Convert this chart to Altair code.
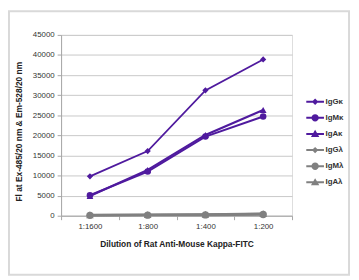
import altair as alt
import pandas as pd

dilutions = ["1:1600", "1:800", "1:400", "1:200"]
series = ["IgGκ", "IgMκ", "IgAκ", "IgGλ", "IgMλ", "IgAλ"]
igg_k = [9800, 16100, 31200, 38900]
igm_k = [5100, 11000, 19700, 24700]
iga_k = [4900, 11400, 20100, 26300]
igg_l = [150, 200, 250, 450]
igm_l = [100, 150, 200, 300]
iga_l = [200, 250, 300, 500]
y_ticks = [0, 5000, 10000, 15000, 20000, 25000, 30000, 35000, 40000, 45000]

purple = "#4f1a9e"
gray = "#808080"
colors = [purple] * 3 + [gray] * 3
marker_shapes = ["diamond", "circle", "triangle-up"] * 2
marker_sizes = [40, 60, 64, 40, 60, 64]
line_widths = [1.8, 2.6, 2.6, 3, 3, 3]

bar = "M-1.8,-0.2H1.8V0.2H-1.8Z "
legend_shapes = [
    bar + "M0,-0.65L0.65,0L0,0.65L-0.65,0Z",
    bar + "M-0.75,0A0.75,0.75 0 1,1 0.75,0A0.75,0.75 0 1,1 -0.75,0Z",
    bar + "M0,-0.85L0.85,0.6L-0.85,0.6Z",
] * 2

values = [igg_k, igm_k, iga_k, igg_l, igm_l, iga_l]
rows = []
for s, vals in zip(series, values):
    for d, v in zip(dilutions, vals):
        rows.append({"dilution": d, "series": s, "value": v})
df = pd.DataFrame(rows)

text_color = "#333333"
axis_color = "#a6a6a6"

x_enc = alt.X(
    "dilution:N",
    sort=dilutions,
    scale=alt.Scale(type="band", paddingInner=0, paddingOuter=0),
    axis=alt.Axis(
        title="Dilution of Rat Anti-Mouse Kappa-FITC",
        labelAngle=0,
        tickBand="extent",
        grid=False,
        labelFontSize=8,
        labelColor=text_color,
        labelPadding=3,
        tickSize=4,
        tickColor=axis_color,
        domainColor=axis_color,
        titleFontSize=8.5,
        titleFontWeight="bold",
        titleColor="#222222",
        titleY=28,
        titleBaseline="middle",
    ),
)
y_enc = alt.Y(
    "value:Q",
    scale=alt.Scale(domain=[0, 45000], nice=False),
    axis=alt.Axis(
        title="Fl at Ex-485/20 nm & Em-528/20 nm",
        values=y_ticks,
        format="d",
        grid=True,
        gridColor="#c8c8c8",
        labelFontSize=8,
        labelColor=text_color,
        labelPadding=3,
        tickSize=4,
        tickColor=axis_color,
        domainColor=axis_color,
        titleFontSize=8.5,
        titleFontWeight="bold",
        titleColor="#222222",
        titleX=-43,
        titleY=98,
        titleBaseline="middle",
    ),
)

color_scale = alt.Scale(domain=series, range=colors)

base = alt.Chart(df)

lines = base.mark_line().encode(
    x=x_enc,
    y=y_enc,
    color=alt.Color("series:N", scale=color_scale, legend=None),
    strokeWidth=alt.StrokeWidth(
        "series:O", scale=alt.Scale(domain=series, range=line_widths), legend=None
    ),
)

points = base.mark_point(filled=True, opacity=1).encode(
    x=x_enc,
    y=y_enc,
    color=alt.Color("series:N", scale=color_scale, legend=None),
    shape=alt.Shape(
        "series:N", scale=alt.Scale(domain=series, range=marker_shapes), legend=None
    ),
    size=alt.Size(
        "series:O", scale=alt.Scale(domain=series, range=marker_sizes), legend=None
    ),
)

leg = alt.Legend(
    title=None,
    orient="none",
    legendX=253.5,
    legendY=63,
    symbolSize=100,
    symbolOpacity=1,
    symbolStrokeWidth=0,
    labelFontSize=8,
    labelFontWeight="bold",
    labelColor=text_color,
    labelOffset=5.5,
    rowPadding=7.4,
    padding=0,
)

legend_layer = base.mark_point(filled=True, opacity=0, size=100).encode(
    x=x_enc,
    y=y_enc,
    color=alt.Color("series:N", sort=series, scale=color_scale, legend=leg),
    shape=alt.Shape(
        "series:N", sort=series, scale=alt.Scale(domain=series, range=legend_shapes), legend=leg
    ),
)

frame = alt.Chart(pd.DataFrame({"a": [0]})).mark_rect(
    fill="transparent", stroke="#d9d9d9", strokeWidth=2
).encode(
    x=alt.value(-53), x2=alt.value(293), y=alt.value(-24), y2=alt.value(244)
)

chart = (
    alt.layer(frame, lines, points, legend_layer)
    .resolve_scale(color="independent", shape="independent", size="independent", strokeWidth="independent")
    .properties(
        width=235,
        height=184,
        autosize=alt.AutoSizeParams(type="none"),
        padding={"left": 54, "top": 25, "right": 60, "bottom": 62},
    )
    .configure_view(strokeWidth=0)
    .configure(font="Liberation Sans")
)

chart.save("out.html", embed_options={"renderer": "svg", "actions": False})
